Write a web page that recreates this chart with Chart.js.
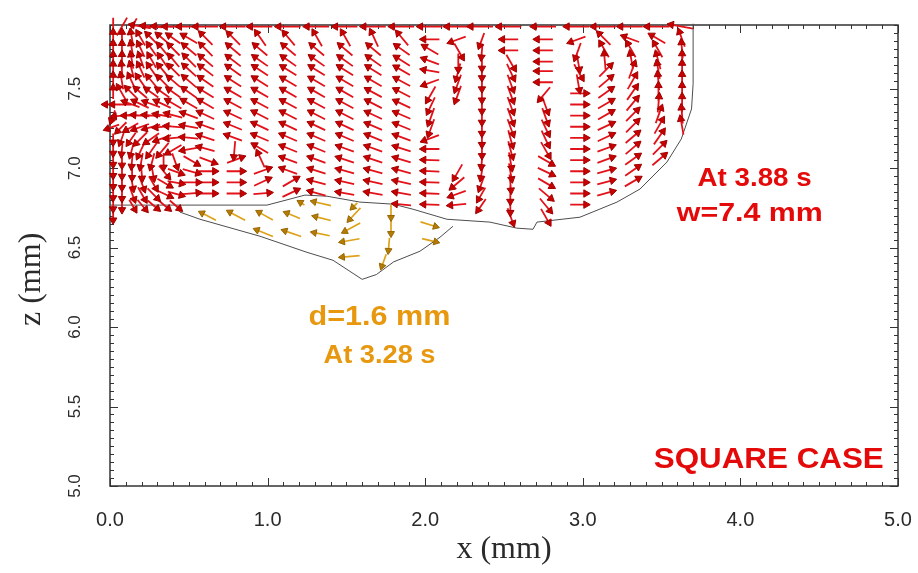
<!DOCTYPE html>
<html lang="en">
<head>
<meta charset="UTF-8">
<title>Square case - melt pool flow</title>
<script src="https://cdn.jsdelivr.net/npm/chart.js@4.4.1/dist/chart.umd.min.js"></script>
<style>
  body { margin: 0; background: #fff; }
  #wrap { width: 918px; height: 573px; }
</style>
</head>
<body>
<div id="wrap"><canvas id="flow" width="918" height="573"></canvas></div>
<script>
// Axis ticks
const xTicks = [0, 1, 2, 3, 4, 5];
const zTicks = [5.0, 5.5, 6.0, 6.5, 7.0, 7.5];

// Velocity field at 3.88 s, sampled on the mesh: column x (mm), row z (mm)
const colX = [0.02, 0.076, 0.14, 0.20, 0.27, 0.34, 0.41, 0.51, 0.615, 0.79, 0.96, 1.14, 1.32,
              1.50, 1.68, 1.86, 2.04, 2.21, 2.36, 2.54, 2.76, 2.97, 3.14, 3.31, 3.48, 3.63];
const rowZ = [7.89, 7.81, 7.74, 7.67, 7.61, 7.54, 7.47, 7.40, 7.33, 7.26, 7.19, 7.12, 7.05,
              6.98, 6.91, 6.84, 6.77, 6.70];

// flow direction per column, top row first (degrees, counter-clockwise from +x)
const flowAngle = [
  [90, 90, 90, 90, 90, 90, 90, 180, 250, 200, 270, 270, 270, 270, 270, 270, 270, 270],
  [60, 90, 90, 90, 95, 100, 120, 180, 185, 225, 250, 265, 270, 270, 270, 270, 270, null],
  [60, 100, 100, 100, 105, 115, 135, 160, 180, 210, 235, 255, 265, 270, 280, 290, 300, null],
  [170, 120, 115, 110, 115, 125, 140, 155, 175, 200, 225, 245, 260, 275, 290, 300, 310, null],
  [175, 135, 125, 120, 125, 130, 145, 160, 175, 195, 215, 235, 255, 280, 300, 315, 320, null],
  [178, 140, 130, 125, 130, 135, 145, 155, 170, 185, 200, 230, 270, 310, 330, 335, 320, null],
  [180, 145, 135, 130, 135, 140, 145, 150, 165, 175, 185, 210, 290, 340, 350, 345, 320, null],
  [180, 150, 140, 135, 138, 140, 145, 150, 160, 170, 175, 190, 330, 345, 0, 5, null, null],
  [180, 135, 135, 140, 143, 145, 148, 150, 155, 160, 162, 165, 340, 0, 0, 0, null, null],
  [180, 135, 140, 143, 145, 147, 150, 152, 155, 158, 160, 265, 20, 0, 0, 0, null, null],
  [180, 125, 140, 145, 147, 148, 150, 152, 153, 155, 157, 150, 115, 20, 25, 5, null, null],
  [180, 130, 140, 145, 148, 150, 150, 152, 153, 155, 157, 158, 160, 160, 30, 25, null, null],
  [180, 120, 140, 145, 148, 150, 150, 152, 153, 155, 157, 158, 160, 162, 165, 165, null, null],
  [180, 120, 140, 145, 148, 150, 150, 152, 153, 155, 157, 160, 162, 165, 168, 170, null, null],
  [180, 115, 140, 145, 148, 150, 152, 153, 155, 157, 158, 160, 162, 165, 168, 170, null, null],
  [180, 130, 145, 148, 150, 152, 153, 155, 157, 158, 160, 162, 163, 165, 168, 170, 175, null],
  [180, 180, 150, 160, 170, 200, 240, 245, 250, 250, 200, 180, 178, 178, 178, 178, 178, null],
  [180, 200, 300, 270, 255, 250, 250, null, null, null, null, null, null, 240, 220, 200, 185, null],
  [180, 250, 265, 270, 270, 270, 270, 270, 270, 270, 270, 270, 265, 260, 250, 240, 235, null],
  [180, 180, 180, 300, 295, 290, 290, 290, 290, 290, 285, 285, 280, 280, 275, 270, 270, 290],
  [180, 180, 180, 180, 180, 180, 230, 290, 290, 295, 295, 300, 330, 335, 330, 320, 310, 300],
  [180, 200, 250, 280, 300, 280, 0, 0, 0, 0, 0, 0, 0, 0, 0, 0, 0, null],
  [180, 135, 120, 95, 45, 40, 35, 30, 30, 25, 25, 20, 20, 15, 15, 15, null, null],
  [180, 160, 120, 100, 70, 60, 55, 50, 45, 45, 40, 40, 35, 35, 30, null, null, null],
  [180, 150, 120, 105, 100, 95, 90, 85, 70, 60, 55, 45, 40, null, null, null, null, null],
  [170, 110, 95, 90, 90, 90, 90, 90, 95, 100, null, null, null, null, null, null, null, null]
];

// arrow length per column, top row first (mm)
const flowLen = [
  [.11, .09, .09, .09, .09, .09, .07, .10, .07, .08, .055, .055, .055, .055, .055, .055, .055, .055],
  [.13, .09, .09, .09, .09, .09, .09, .12, .10, .08, .065, .065, .065, .065, .065, .065, .065, .065],
  [.12, .09, .09, .09, .09, .09, .09, .10, .10, .09, .08, .08, .08, .08, .08, .08, .07, .07],
  [.12, .09, .09, .09, .09, .09, .09, .10, .10, .10, .10, .10, .09, .09, .09, .09, .08, .08],
  [.12, .09, .09, .09, .09, .09, .09, .10, .10, .10, .10, .10, .09, .09, .09, .09, .08, .08],
  [.12, .09, .09, .09, .09, .09, .09, .10, .10, .10, .10, .10, .09, .09, .09, .09, .08, .08],
  [.12, .09, .09, .09, .09, .09, .09, .10, .10, .10, .10, .10, .09, .09, .09, .09, .08, .08],
  [.14, .10, .10, .10, .10, .10, .10, .10, .10, .10, .10, .10, .10, .10, .10, .10, .10, .10],
  [.14, .10, .10, .10, .10, .10, .10, .10, .10, .10, .10, .10, .10, .10, .10, .10, .10, .10],
  [.14, .10, .10, .10, .10, .10, .10, .10, .10, .10, .10, .10, .10, .10, .10, .10, .10, .10],
  [.14, .10, .10, .10, .10, .10, .10, .10, .10, .10, .10, .10, .10, .10, .10, .10, .10, .10],
  [.14, .10, .10, .10, .10, .10, .10, .10, .10, .10, .10, .10, .10, .10, .10, .10, .10, .10],
  [.14, .10, .10, .10, .10, .10, .10, .10, .10, .10, .10, .10, .10, .10, .10, .10, .10, .10],
  [.14, .10, .10, .10, .10, .10, .10, .10, .10, .10, .10, .10, .10, .10, .10, .10, .10, .10],
  [.14, .10, .10, .10, .10, .10, .10, .10, .10, .10, .10, .10, .10, .10, .10, .10, .10, .10],
  [.14, .10, .10, .10, .10, .10, .10, .10, .10, .10, .10, .10, .10, .10, .10, .10, .10, .10],
  [.14, .10, .10, .10, .10, .10, .10, .10, .10, .10, .10, .10, .10, .10, .10, .10, .10, .10],
  [.14, .10, .10, .10, .10, .10, .10, .10, .10, .10, .10, .10, .10, .10, .10, .10, .10, .10],
  [.14, .085, .085, .085, .085, .085, .085, .085, .085, .085, .085, .085, .085, .085, .085, .085, .085, .085],
  [.14, .10, .10, .10, .10, .10, .10, .10, .10, .10, .10, .10, .10, .10, .10, .10, .10, .10],
  [.14, .10, .10, .10, .10, .10, .10, .10, .10, .10, .10, .10, .10, .10, .10, .10, .10, .10],
  [.14, .10, .10, .10, .10, .10, .10, .10, .10, .10, .10, .10, .10, .10, .10, .10, .10, .10],
  [.14, .10, .10, .10, .10, .10, .10, .10, .10, .10, .10, .10, .10, .10, .10, .10, .10, .10],
  [.14, .10, .10, .10, .10, .10, .10, .10, .10, .10, .10, .10, .10, .10, .10, .10, .10, .10],
  [.14, .10, .10, .10, .10, .10, .10, .10, .10, .10, .10, .10, .10, .10, .10, .10, .10, .10],
  [.14, .10, .10, .10, .10, .10, .10, .10, .10, .10, .10, .10, .10, .10, .10, .10, .10, .10]
];

// Velocity vectors at 3.28 s (x, z at arrow centre, direction, length)
const goldX = [0.628, 0.809, 0.990, 1.164, 1.221, 1.348, 1.352, 0.983, 1.161, 1.345, 1.555, 1.555,
               1.539, 1.529, 1.529, 1.783, 1.783, 1.770, 1.739, 2.018, 2.024];
const goldZ = [6.694, 6.697, 6.697, 6.700, 6.776, 6.776, 6.682, 6.590, 6.587, 6.584, 6.713, 6.767,
               6.628, 6.546, 6.445, 6.729, 6.628, 6.521, 6.420, 6.647, 6.546];
const goldAngle = [153, 152, 151, 158, 149, 167, 166, 158, 161, 169, 227, 225,
                   208, 190, 185, 270, 270, 265, 250, 343, 347];
const goldLen = [0.10, 0.11, 0.10, 0.09, 0.03, 0.11, 0.10, 0.11, 0.11, 0.10, 0.10, 0.04,
                 0.11, 0.11, 0.11, 0.08, 0.08, 0.08, 0.08, 0.10, 0.09];

// Pool boundaries (x, z in mm)
const poolX388 = [0.000, 0.996, 1.142, 1.237, 1.377, 1.586, 1.796, 1.923, 2.138, 2.411, 2.582, 2.684,
                  2.709, 2.982, 3.217, 3.363, 3.534, 3.625, 3.690, 3.700, 3.700];
const poolZ388 = [6.767, 6.767, 6.805, 6.830, 6.823, 6.786, 6.773, 6.741, 6.678, 6.660, 6.622, 6.615,
                  6.660, 6.691, 6.786, 6.868, 7.038, 7.183, 7.372, 7.530, 7.908];
const poolX328 = [0.425, 0.444, 0.571, 0.952, 1.250, 1.415, 1.600, 1.690, 1.800, 1.967, 2.094, 2.176];
const poolZ328 = [6.754, 6.723, 6.678, 6.571, 6.470, 6.420, 6.300, 6.330, 6.410, 6.477, 6.565, 6.634];

// line segments (separated by gaps) and head points for a set of arrows
function buildArrows(list) {
  const lines = [];
  const heads = [];
  list.forEach(a => {
    const rad = a.deg * Math.PI / 180;
    const dx = Math.cos(rad) * a.len / 2;
    const dz = Math.sin(rad) * a.len / 2;
    lines.push({ x: a.x - dx, y: a.z - dz }, { x: a.x + dx, y: a.z + dz }, { x: a.x + dx, y: null });
    heads.push({ x: a.x + dx, y: a.z + dz, rot: 90 - a.deg });
  });
  return { lines, heads };
}

const fieldList = [];
colX.forEach((x, i) => {
  rowZ.forEach((z, j) => {
    const deg = flowAngle[i][j];
    if (deg === null) return;
    fieldList.push({ x, z, deg, len: flowLen[i][j] });
  });
});
const field = buildArrows(fieldList);
const gold = buildArrows(goldX.map((x, i) => ({ x, z: goldZ[i], deg: goldAngle[i], len: goldLen[i] })));

const RED = '#e3121a';
const GOLD = '#dea21a';
const TEXT = '#2a2a2a';

// frame with inward ticks on all four sides, plus the z axis title
const framePlugin = {
  id: 'frame',
  beforeDatasetsDraw(chart) {
    const { ctx, chartArea: a, scales: { x, y } } = chart;
    ctx.save();
    ctx.strokeStyle = '#333';
    ctx.lineWidth = 1.5;
    ctx.strokeRect(a.left, a.top, a.right - a.left, a.bottom - a.top);
    ctx.lineWidth = 1;
    ctx.beginPath();
    for (let i = 0; i <= 50; i++) {
      const px = Math.round(x.getPixelForValue(i / 10)) + 0.5;
      const len = i % 10 === 0 ? 8 : 4;
      ctx.moveTo(px, a.bottom); ctx.lineTo(px, a.bottom - len);
      ctx.moveTo(px, a.top); ctx.lineTo(px, a.top + len);
    }
    for (let i = 100; i <= 158; i++) {
      const py = Math.round(y.getPixelForValue(i / 20)) + 0.5;
      const len = i % 10 === 0 ? 8 : 4;
      ctx.moveTo(a.left, py); ctx.lineTo(a.left + len, py);
      ctx.moveTo(a.right, py); ctx.lineTo(a.right - len, py);
    }
    ctx.stroke();

    ctx.translate(32, y.getPixelForValue(6.3));
    ctx.rotate(-Math.PI / 2);
    ctx.font = '32px "Liberation Serif", "Times New Roman", serif';
    ctx.fillStyle = TEXT;
    ctx.textAlign = 'center';
    ctx.textBaseline = 'middle';
    ctx.fillText('z (mm)', 0, 0);
    ctx.restore();
  }
};

// annotations
const notes = [
  { text: 'At 3.88 s', x: 4.09, z: 6.93, size: 25, width: 114, color: '#e50a0a' },
  { text: 'w=7.4 mm', x: 4.06, z: 6.71, size: 26, width: 146, color: '#e50a0a' },
  { text: 'd=1.6 mm', x: 1.71, z: 6.06, size: 27, width: 142, color: '#e8980e' },
  { text: 'At 3.28 s', x: 1.71, z: 5.82, size: 25, width: 112, color: '#e8980e' },
  { text: 'SQUARE CASE', x: 4.18, z: 5.165, size: 29, width: 230, color: '#e50a0a' }
];

const notesPlugin = {
  id: 'notes',
  afterDatasetsDraw(chart) {
    const { ctx, scales: { x, y } } = chart;
    notes.forEach(n => {
      ctx.save();
      ctx.font = `bold ${n.size}px "Liberation Sans", Arial, sans-serif`;
      ctx.fillStyle = n.color;
      ctx.textAlign = 'center';
      ctx.textBaseline = 'middle';
      const w = ctx.measureText(n.text).width;
      ctx.translate(x.getPixelForValue(n.x), y.getPixelForValue(n.z));
      ctx.scale(n.width / w, 1);
      ctx.fillText(n.text, 0, 0);
      ctx.restore();
    });
  }
};

const lineSet = (data, color, width) => ({
  data, showLine: true, borderColor: color, borderWidth: width,
  pointRadius: 0, tension: 0, spanGaps: false, clip: false
});
const headSet = (data, fill, edge, r) => ({
  data, showLine: false, pointStyle: 'triangle', pointRadius: r,
  rotation: c => (c.raw ? c.raw.rot : 0),
  backgroundColor: fill, borderColor: edge, borderWidth: 1, clip: false
});

new Chart(document.getElementById('flow'), {
  type: 'scatter',
  data: {
    datasets: [
      headSet(field.heads, '#c80000', '#a00000', 4.3),
      lineSet(field.lines, RED, 1.8),
      headSet(gold.heads, '#b47c06', '#976600', 4),
      lineSet(gold.lines, GOLD, 1.7),
      lineSet(poolX328.map((x, i) => ({ x, y: poolZ328[i] })), '#4d4d4d', 1),
      lineSet(poolX388.map((x, i) => ({ x, y: poolZ388[i] })), '#4d4d4d', 1)
    ]
  },
  options: {
    responsive: false,
    animation: false,
    devicePixelRatio: 1,
    events: [],
    layout: { padding: { top: 25, right: 20, bottom: 0, left: 0 } },
    plugins: { legend: { display: false }, tooltip: { enabled: false } },
    scales: {
      x: {
        type: 'linear', min: 0, max: 5,
        afterBuildTicks: s => { s.ticks = xTicks.map(v => ({ value: v })); },
        afterFit: s => { s.height = 87; },
        // tickLength only spaces the labels off the axis; the marks themselves are drawn by the frame plugin
        grid: { display: false, drawTicks: true, tickLength: 22 },
        border: { display: false },
        ticks: {
          callback: v => v.toFixed(1), color: TEXT, padding: 0,
          maxRotation: 0, autoSkip: false,
          font: { family: '"Liberation Sans", Arial, sans-serif', size: 20 }
        },
        title: {
          display: true, text: 'x (mm)', color: TEXT,
          font: { family: '"Liberation Serif", "Times New Roman", serif', size: 32 },
          padding: { top: 0, bottom: 4 }
        }
      },
      y: {
        type: 'linear', min: 5, max: 7.9,
        afterBuildTicks: s => { s.ticks = zTicks.map(v => ({ value: v })); },
        afterFit: s => { s.width = 110; },
        grid: { display: false, drawTicks: true, tickLength: 23 },
        border: { display: false },
        ticks: {
          callback: v => v.toFixed(1), color: TEXT, padding: 0,
          minRotation: 90, maxRotation: 90, crossAlign: 'center', autoSkip: false,
          font: { family: '"Liberation Sans", Arial, sans-serif', size: 17 }
        },
        title: { display: false }
      }
    }
  },
  plugins: [framePlugin, notesPlugin]
});
</script>
</body>
</html>
